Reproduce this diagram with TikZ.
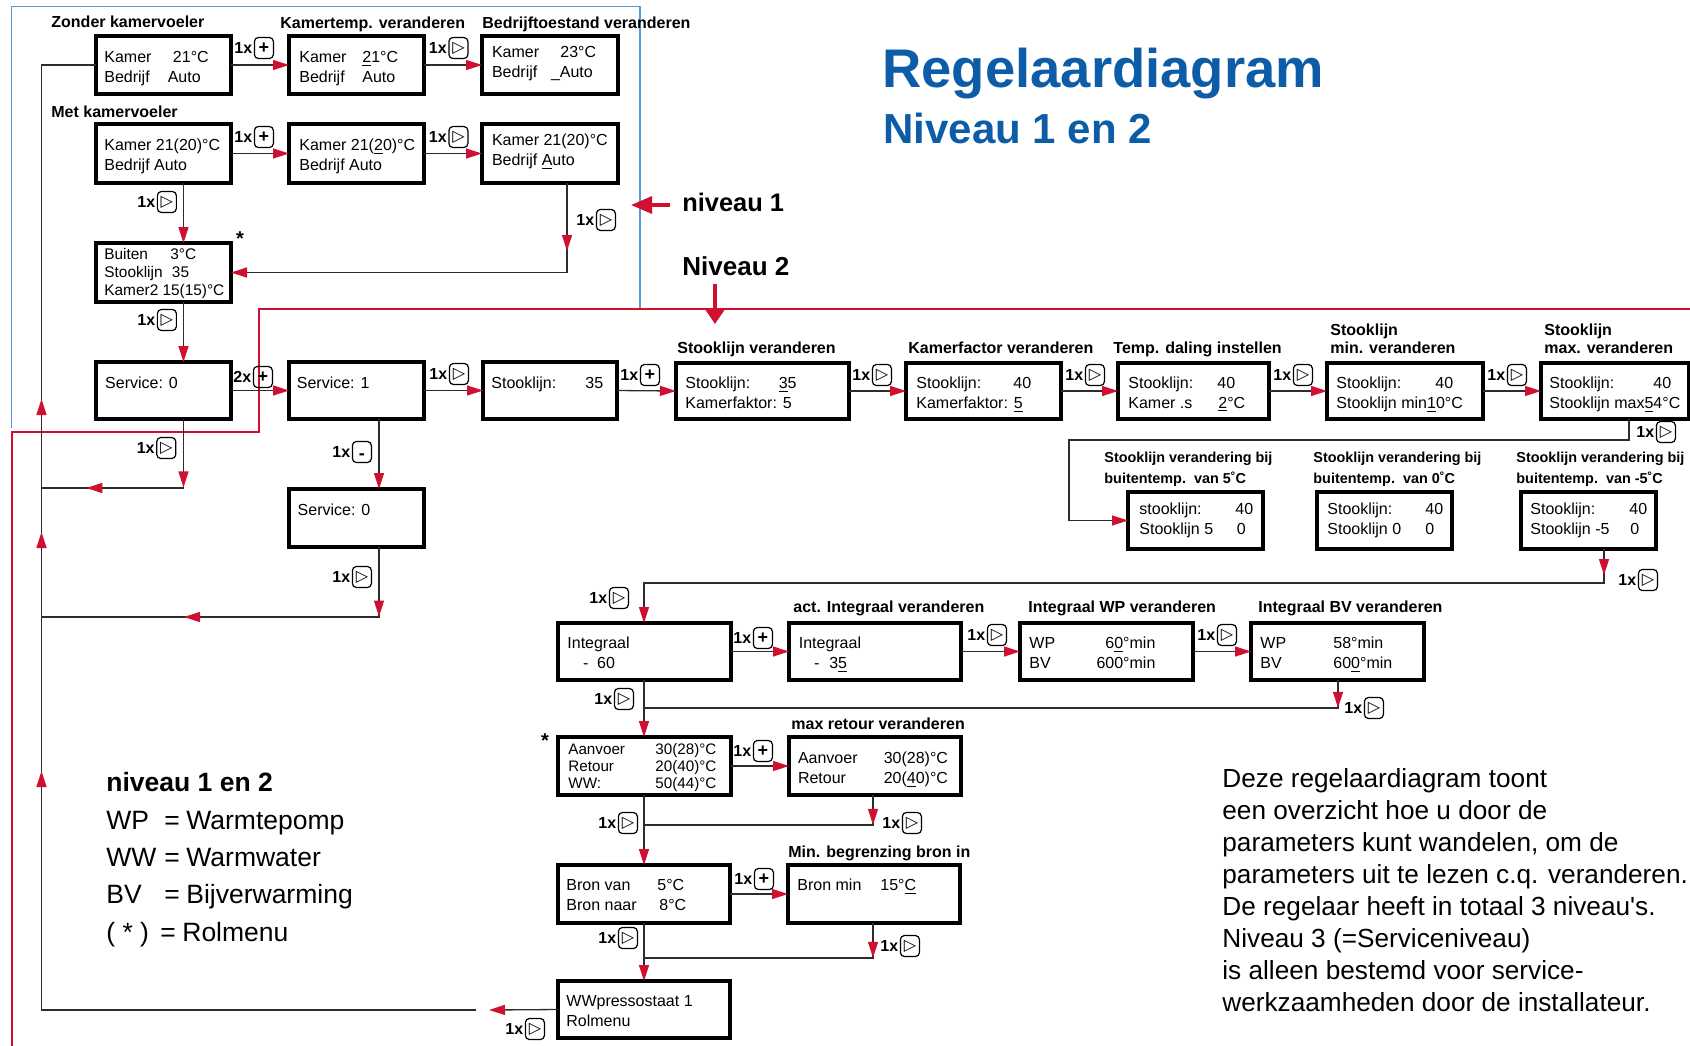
\documentclass[tikz,border=0pt]{standalone}
\usepackage{fontspec}
\setmainfont{Liberation Sans}
\newfontfamily\symfont{DejaVu Sans}
\usetikzlibrary{arrows.meta,decorations.markings}
\definecolor{lred}{RGB}{208,16,48}
\definecolor{fblue}{RGB}{80,155,220}
\definecolor{tblue}{RGB}{12,92,168}
\definecolor{cgray}{RGB}{45,45,45}
\newcommand\tb[2]{\makebox[#1][l]{#2}}
\newcommand\panel[5]{\node[panel, minimum width={(#4-#2)*0.5pt}, minimum height={(#5-#3)*0.5pt}] (#1) at (#2,#3) {};}
\newcommand\keylab[4]{\node[cnt] (#1) at (#2) {#3};\node[keybox] (#1k) at ([xshift=0.6pt]#1.east) {#4};}
\newcommand\tri{{\symfont\fontsize{8pt}{8pt}\selectfont ▷}}
\newcommand\pls{{\bfseries\fontsize{9pt}{9pt}\selectfont +}}
\newcommand\mns{\rule{0pt}{7pt}{\bfseries\fontsize{9pt}{9pt}\selectfont -}}
\tikzset{
  redtip/.tip={Triangle[length=8pt,width=5pt,color=lred]},
  panel/.style={draw=black, line width=1.6pt, rectangle, inner sep=0pt, outer sep=0pt, anchor=north west},
  ptext/.style={anchor=west, align=left, inner sep=0pt, font=\fontsize{8pt}{10pt}\selectfont},
  ttl/.style={anchor=west, align=left, inner sep=0pt, font=\bfseries\fontsize{8pt}{9.2pt}\selectfont},
  sttl/.style={anchor=west, align=left, inner sep=0pt, font=\bfseries\fontsize{7.2pt}{10.4pt}\selectfont},
  cnt/.style={anchor=west, inner sep=0pt, font=\bfseries\fontsize{8pt}{8pt}\selectfont},
  keybox/.style={draw=black, rounded corners=2pt, line width=0.6pt, minimum width=9.5pt, minimum height=10.5pt, inner sep=0pt, anchor=west},
  conn/.style={draw=cgray, line width=0.65pt},
  arr/.style={conn, -redtip},
  mk/.style={postaction={decorate, decoration={markings, mark=at position #1 with {\arrow{Triangle[length=8pt,width=5pt,color=lred]}}}}},
}
\begin{document}
\begin{tikzpicture}[x=0.5pt,y=-0.5pt]
\useasboundingbox (0,0) rectangle (1690,1045);
% frames
\draw[fblue, line width=0.7pt] (640,310) -- (640,6.7) -- (11.4,6.7) -- (11.4,428);
\draw[lred, line width=0.7pt] (1700,309) -- (259,309) -- (259,432) -- (12,432) -- (12,1050);
% big titles
\node[anchor=base west, inner sep=0pt, text=tblue, font=\bfseries\fontsize{27.2pt}{30pt}\selectfont] (title) at (882,87.3) {Regelaardiagram};
\node[anchor=base west, inner sep=0pt, text=tblue, font=\bfseries\fontsize{21pt}{23pt}\selectfont] (subtitle) at (883,143.3) {Niveau 1 en 2};
\node[anchor=base west, inner sep=0pt, font=\bfseries\fontsize{12.7pt}{14pt}\selectfont] (nv1) at (682,211.7) {niveau 1};
\node[anchor=base west, inner sep=0pt, font=\bfseries\fontsize{13pt}{15pt}\selectfont] (nv2) at (682,275) {Niveau 2};
\coordinate (nv1tail) at (670,205);
\coordinate (nv1tip) at (631,205);
\draw[lred, line width=1.6pt, -{Triangle[length=10.5pt,width=8.5pt]}] (nv1tail) -- (nv1tip);
\coordinate (nv2a) at (715,284);
\coordinate (nv2b) at (715,324);
\draw[lred, line width=1.6pt, -{Triangle[length=7pt,width=9pt]}] (nv2a) -- (nv2b);
% titles
\node[ttl] (t1) at (51,24) {\strut Zonder kamervoeler};
\node[ttl] (t2) at (280,24.7) {\strut Kamertemp. veranderen};
\node[ttl] (t3) at (482,24.7) {\strut Bedrijftoestand veranderen};
\node[ttl] (t4) at (51,113.7) {\strut Met kamervoeler};
\node[ttl] (t5) at (677,349.8) {\strut Stooklijn veranderen};
\node[ttl] (t6) at (908,349.8) {\strut Kamerfactor veranderen};
\node[ttl] (t7) at (1113,349.8) {\strut Temp. daling instellen};
\node[ttl] (t8) at (1330,340.7) {\strut Stooklijn\\\strut min. veranderen};
\node[ttl] (t9) at (1544,340.7) {\strut Stooklijn\\\strut max. veranderen};
\node[sttl] (u1) at (1104,468.6) {\strut Stooklijn verandering bij\\\strut buitentemp.\ \ van 5˚C};
\node[sttl] (u2) at (1313,468.6) {\strut Stooklijn verandering bij\\\strut buitentemp.\ \ van 0˚C};
\node[sttl] (u3) at (1516,468.6) {\strut Stooklijn verandering bij\\\strut buitentemp.\ \ van -5˚C};
\node[ttl] (t10) at (793,609.2) {\strut act. Integraal veranderen};
\node[ttl] (t11) at (1028,609.2) {\strut Integraal WP veranderen};
\node[ttl] (t12) at (1258,609.2) {\strut Integraal BV veranderen};
\node[ttl] (t13) at (791,725.8) {\strut max retour veranderen};
\node[ttl] (t14) at (788,853.8) {\strut Min. begrenzing bron in};
\node[inner sep=0pt, font=\bfseries\fontsize{10pt}{10pt}\selectfont] (st1) at (240,239) {*};
\node[inner sep=0pt, font=\bfseries\fontsize{10pt}{10pt}\selectfont] (st2) at (545,741) {*};
% panels
\panel{A1}{96}{36}{231}{94}
\panel{A2}{289}{36}{424}{94}
\panel{A3}{482}{36}{618}{94}
\panel{B1}{96}{124}{231}{183}
\panel{B2}{289}{124}{424}{183}
\panel{B3}{482}{124}{618}{183}
\panel{C0}{96}{243}{231}{302}
\panel{S0}{96}{362}{231}{419}
\panel{S1}{289}{362}{424}{419}
\panel{K0}{483}{362}{617}{419}
\panel{S2}{289}{489}{424}{547}
\panel{K1}{676}{363}{849}{419}
\panel{K2}{906}{363}{1061}{419}
\panel{K3}{1118}{363}{1269}{419}
\panel{K4}{1327}{363}{1483}{419}
\panel{K5}{1541}{363}{1689}{419}
\panel{L1}{1128}{492}{1263}{549}
\panel{L2}{1317}{492}{1452}{549}
\panel{L3}{1521}{492}{1656}{549}
\panel{I0}{558}{623}{731}{680}
\panel{I1}{789}{623}{961}{680}
\panel{I2}{1020}{623}{1193}{680}
\panel{I3}{1251}{623}{1424}{680}
\panel{R0}{558}{737}{731}{795}
\panel{R1}{789}{737}{961}{795}
\panel{N0}{558}{865}{730}{923}
\panel{N1}{788}{865}{960}{923}
\panel{W0}{558}{981}{730}{1038}
% panel texts
\node[ptext] (A1t) at (104,68.7) {\strut\tb{34.3pt}{Kamer}21°C\\\strut\tb{31.7pt}{Bedrijf}Auto};
\node[ptext] (A2t) at (299,68.7) {\strut\tb{31.5pt}{Kamer}\underline{2}1°C\\\strut\tb{31.5pt}{Bedrijf}Auto};
\node[ptext] (A3t) at (491.6,63.4) {\strut\tb{34.2pt}{Kamer}23°C\\\strut\tb{29.5pt}{Bedrijf}\_Auto};
\node[ptext] (B1t) at (104,156.7) {\strut Kamer 21(20)°C\\\strut Bedrijf Auto};
\node[ptext] (B2t) at (299,156.4) {\strut Kamer 21(\underline{2}0)°C\\\strut Bedrijf Auto};
\node[ptext] (B3t) at (491.6,151.7) {\strut Kamer 21(20)°C\\\strut Bedrijf \underline{A}uto};
\node[ptext, font=\fontsize{7.7pt}{9pt}\selectfont] (C0t) at (104,274) {\strut\tb{33pt}{Buiten}3°C\\\strut\tb{33.8pt}{Stooklijn}35\\\strut Kamer2 15(15)°C};
\node[ptext] (S0t) at (104.8,384) {\strut Service: 0};
\node[ptext] (S1t) at (296.5,384) {\strut Service: 1};
\node[ptext] (K0t) at (491,384.4) {\strut\tb{47pt}{Stooklijn:}35};
\node[ptext] (S2t) at (297.3,511.7) {\strut Service: 0};
\node[ptext] (K1t) at (685,394) {\strut\tb{46.7pt}{Stooklijn:}\underline{3}5\\\strut Kamerfaktor: 5};
\node[ptext] (K2t) at (916,394) {\strut\tb{48.5pt}{Stooklijn:}40\\\strut Kamerfaktor: \underline{5}};
\node[ptext] (K3t) at (1128,394) {\strut\tb{44.5pt}{Stooklijn:}40\\\strut\tb{45pt}{Kamer .s}\underline{2}°C};
\node[ptext] (K4t) at (1336,394.4) {\strut\tb{49.5pt}{Stooklijn:}40\\\strut Stooklijn min\underline{1}0°C};
\node[ptext] (K5t) at (1549,394.4) {\strut\tb{52pt}{Stooklijn:}40\\\strut Stooklijn max\underline{5}4°C};
\node[ptext] (L1t) at (1139,520) {\strut\tb{48pt}{stooklijn:}40\\\strut\tb{48.7pt}{Stooklijn 5}0};
\node[ptext] (L2t) at (1327,520) {\strut\tb{49pt}{Stooklijn:}40\\\strut\tb{49pt}{Stooklijn 0}0};
\node[ptext] (L3t) at (1530,520) {\strut\tb{49.5pt}{Stooklijn:}40\\\strut\tb{50pt}{Stooklijn -5}0};
\node[ptext] (I0t) at (567,654.7) {\strut Integraal\\\strut\hspace*{7.8pt}-\hspace*{4.4pt}60};
\node[ptext] (I1t) at (798.4,654.4) {\strut Integraal\\\strut\hspace*{7.6pt}-\hspace*{5pt}3\underline{5}};
\node[ptext] (I2t) at (1029,654) {\strut\makebox[63pt]{WP\hfill 6\underline{0}°min}\\\strut\makebox[63pt]{BV\hfill 600°min}};
\node[ptext] (I3t) at (1260,654.7) {\strut\tb{36.5pt}{WP}58°min\\\strut\tb{36.5pt}{BV}60\underline{0}°min};
\node[ptext, font=\fontsize{7.6pt}{8.5pt}\selectfont] (R0t) at (568,768) {\strut\makebox[74pt]{Aanvoer\hfill 30(28)°C}\\\strut\makebox[74pt]{Retour\hfill 20(40)°C}\\\strut\makebox[74pt]{WW:\hfill 50(44)°C}};
\node[ptext] (R1t) at (797.6,769.7) {\strut\makebox[75pt]{Aanvoer\hfill 30(28)°C}\\\strut\makebox[75pt]{Retour\hfill 20(\underline{4}0)°C}};
\node[ptext] (N0t) at (566,896.7) {\strut\tb{45.5pt}{Bron van}5°C\\\strut\tb{46.5pt}{Bron naar}8°C};
\node[ptext] (N1t) at (797,886.7) {\strut\tb{41.5pt}{Bron min}15°\underline{C}};
\node[ptext] (W0t) at (566,1012.7) {\strut WWpressostaat 1\\\strut Rolmenu};
% key labels
\keylab{k1}{234,48}{1x}{\pls}
\keylab{k2}{428.5,48}{1x}{\tri}
\keylab{k3}{234,137}{1x}{\pls}
\keylab{k4}{428.5,137}{1x}{\tri}
\keylab{k5}{137,202}{1x}{\tri}
\keylab{k6}{576,220}{1x}{\tri}
\keylab{k7}{137,320}{1x}{\tri}
\keylab{k8}{233,377}{2x}{\pls}
\keylab{k9}{429,374}{1x}{\tri}
\keylab{k10}{136.4,448}{1x}{\tri}
\keylab{k11}{332,452}{1x}{\mns}
\keylab{k12}{332,577}{1x}{\tri}
\keylab{k13}{620,375}{1x}{\pls}
\keylab{k14}{852,375}{1x}{\tri}
\keylab{k15}{1065,375}{1x}{\tri}
\keylab{k16}{1273,375}{1x}{\tri}
\keylab{k17}{1487,375}{1x}{\tri}
\keylab{k18}{1636,432}{1x}{\tri}
\keylab{k19}{1618,580}{1x}{\tri}
\keylab{k20}{589,598}{1x}{\tri}
\keylab{k21}{733,638}{1x}{\pls}
\keylab{k22}{967,635}{1x}{\tri}
\keylab{k23}{1197,635}{1x}{\tri}
\keylab{k24}{1344,708}{1x}{\tri}
\keylab{k25}{594,699}{1x}{\tri}
\keylab{k26}{733,751}{1x}{\pls}
\keylab{k27}{882,823}{1x}{\tri}
\keylab{k28}{598,823}{1x}{\tri}
\keylab{k29}{734,879}{1x}{\pls}
\keylab{k30}{880,946}{1x}{\tri}
\keylab{k31}{598,938}{1x}{\tri}
\keylab{k32}{505,1029}{1x}{\tri}
% column / row coordinates
\coordinate (xL) at (41.5,0);
\coordinate (xa) at (183.5,0);
\coordinate (xb) at (379,0);
\coordinate (xc) at (567,0);
\coordinate (xd) at (1629,0);
\coordinate (xe) at (1069,0);
\coordinate (xf) at (1604,0);
\coordinate (xg) at (644,0);
\coordinate (xh) at (1338,0);
\coordinate (xi) at (873,0);
\coordinate (yA) at (0,488);
\coordinate (yB) at (0,617);
\coordinate (yD) at (0,440);
\coordinate (yE) at (0,583);
\coordinate (yF) at (0,708);
\coordinate (yG) at (0,825);
\coordinate (yH) at (0,958);
\coordinate (loopstart) at (476,1010);
\coordinate (wtip) at (489,1010);
% connectors
\draw[arr] (A1.east) -- (A2.west);
\draw[arr] (A2.east) -- (A3.west);
\draw[arr] (B1.east) -- (B2.west);
\draw[arr] (B2.east) -- (B3.west);
\draw[arr] (B1.south -| xa) -- (C0.north -| xa);
\draw[conn, -redtip, mk=34pt] (B3.south -| xc) -- (xc |- C0.east) -- (C0.east);
\draw[arr] (C0.south -| xa) -- (S0.north -| xa);
\draw[arr] (S0.east) -- (S1.west);
\draw[arr] (S1.east) -- (K0.west);
\draw[arr] (S1.south -| xb) -- (S2.north -| xb);
\draw[conn, mk=34.2pt, mk=83.1pt] (S0.south -| xa) -- (xa |- yA) -- (xL |- yA);
\draw[conn, mk=34.8pt, mk=132.5pt] (S2.south -| xb) -- (xb |- yB) -- (xL |- yB);
\draw[conn, mk=336.75pt, mk=456.25pt, mk=522.75pt] (loopstart) -- (xL |- loopstart) -- (xL |- A1.west) -- (A1.west);
\draw[arr] (W0.west) -- (wtip);
\draw[arr] (K0.east) -- (K1.west);
\draw[arr] (K1.east) -- (K2.west);
\draw[arr] (K2.east) -- (K3.west);
\draw[arr] (K3.east) -- (K4.west);
\draw[arr] (K4.east) -- (K5.west);
\draw[arr] (K5.south -| xd) -- (xd |- yD) -- (xe |- yD) -- (xe |- L1.west) -- (L1.west);
\draw[conn, -redtip, mk=13pt] (L3.south -| xf) -- (xf |- yE) -- (xg |- yE) -- (I0.north -| xg);
\draw[arr] (I0.east) -- (I1.west);
\draw[arr] (I1.east) -- (I2.west);
\draw[arr] (I2.east) -- (I3.west);
\draw[conn, mk=13.9pt] (I3.south -| xh) -- (xh |- yF) -- (xg |- yF);
\draw[arr] (I0.south -| xg) -- (R0.north -| xg);
\draw[arr] (R0.east) -- (R1.west);
\draw[conn, mk=14.9pt] (R1.south -| xi) -- (xi |- yG) -- (xg |- yG);
\draw[arr] (R0.south -| xg) -- (N0.north -| xg);
\draw[arr] (N0.east) -- (N1.west);
\draw[conn, mk=17.4pt] (N1.south -| xi) -- (xi |- yH) -- (xg |- yH);
\draw[arr] (N0.south -| xg) -- (W0.north -| xg);
% legend
\node[anchor=west, align=left, inner sep=0pt, font=\fontsize{13.25pt}{18.65pt}\selectfont] (leg) at (106,859) {\strut\textbf{niveau 1 en 2}\\\strut\tb{29pt}{WP}\tb{11pt}{=}Warmtepomp\\\strut\tb{29pt}{WW}\tb{11pt}{=}Warmwater\\\strut\tb{29pt}{BV}\tb{11pt}{=}Bijverwarming\\\strut\tb{27pt}{( * )}\tb{11pt}{=}Rolmenu};
% description
\node[anchor=west, align=left, inner sep=0pt, font=\fontsize{13.1pt}{16pt}\selectfont] (desc) at (1222,892.6) {\strut Deze regelaardiagram toont\\\strut een overzicht hoe u door de\\\strut parameters kunt wandelen, om de\\\strut parameters uit te lezen c.q. veranderen.\\\strut De regelaar heeft in totaal 3 niveau\textquotesingle s.\\\strut Niveau 3 (=Serviceniveau)\\\strut is alleen bestemd voor service-\\\strut werkzaamheden door de installateur.};
\end{tikzpicture}
\end{document}
